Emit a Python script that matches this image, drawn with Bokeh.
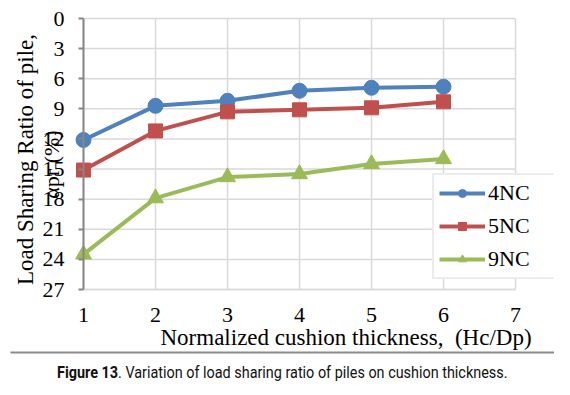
from math import pi
from bokeh.plotting import figure
from bokeh.models import Range1d, FixedTicker, Label, Div, BoxAnnotation
from bokeh.layouts import column
from bokeh.embed import file_html
from bokeh.resources import INLINE

# ---- data ----
thickness = [1, 2, 3, 4, 5, 6]
nc4 = [12.1, 8.7, 8.2, 7.2, 6.9, 6.8]
nc5 = [15.1, 11.2, 9.3, 9.1, 8.9, 8.3]
nc9 = [23.5, 17.9, 15.8, 15.5, 14.5, 14.0]
x_ticks = [1, 2, 3, 4, 5, 6, 7]
y_ticks = [0, 3, 6, 9, 12, 15, 18, 21, 24, 27]
series_names = ["4NC", "5NC", "9NC"]

SERIF = "Liberation Serif"
GRID = "#d9d9d9"

# ---- layout geometry (pixels) ----
W, H = 554, 355
X0_PX, X_PER = 83, 72.0        # x=1 at pixel 83, 72 px per unit
Y0_PX, Y_PER = 18, 271 / 27.0  # y=0 at pixel 18


def px_x(px):
    return x_ticks[0] + (px - X0_PX) / X_PER


def px_y(py):
    return y_ticks[0] + (py - Y0_PX) / Y_PER


p = figure(width=W, height=H, output_backend="svg", toolbar_location=None,
           x_range=Range1d(px_x(0), px_x(W)),
           y_range=Range1d(px_y(H), px_y(0)),
           min_border_left=0, min_border_right=0, min_border_top=0,
           min_border_bottom=0)
p.outline_line_color = None
p.background_fill_color = "white"
p.grid.visible = False

xmin, xmax = x_ticks[0], x_ticks[-1]
ymin, ymax = y_ticks[0], y_ticks[-1]

# grid lines (bounded to the plotting area)
p.segment(x0=x_ticks, x1=x_ticks, y0=[ymin] * len(x_ticks), y1=[ymax] * len(x_ticks),
          line_color=GRID, line_width=1.5)
p.segment(x0=[xmin] * len(y_ticks), x1=[xmax] * len(y_ticks), y0=y_ticks, y1=y_ticks,
          line_color=GRID, line_width=1.5)

# axes at fixed locations
p.xaxis.fixed_location = ymax
p.yaxis.fixed_location = xmin
p.xaxis.bounds = (xmin, xmax)
p.yaxis.bounds = (ymin, ymax)
p.xaxis.ticker = FixedTicker(ticks=x_ticks)
p.yaxis.ticker = FixedTicker(ticks=y_ticks)
for ax in (p.xaxis, p.yaxis):
    ax.major_label_text_font = SERIF
    ax.major_label_text_font_size = "22px"
    ax.major_label_text_color = "black"
    ax.minor_tick_line_color = None
p.xaxis.axis_line_color = GRID
p.xaxis.axis_line_width = 1.5
p.xaxis.major_tick_line_color = None
p.xaxis.major_label_standoff = 12
p.yaxis.axis_line_color = "#868686"
p.yaxis.axis_line_width = 2
p.yaxis.major_tick_line_color = "#868686"
p.yaxis.major_tick_line_width = 2
p.yaxis.major_tick_in = 0
p.yaxis.major_tick_out = 5
p.yaxis.major_label_standoff = 14

colors = ["#4f81bd", "#c0504d", "#9bbb59"]
markers = ["circle", "square", "triangle"]
sizes = [15, 14, 16]
for name, vals, c, m, s in zip(series_names, [nc4, nc5, nc9], colors, markers, sizes):
    p.line(thickness, vals, line_color=c, line_width=4, legend_label=name)
    p.scatter(thickness, vals, marker=m, size=s, fill_color=c, line_color=c,
              legend_label=name)

leg = p.legend[0]
leg.location = (432, H - 279)
leg.label_text_font = SERIF
leg.label_text_font_size = "22px"
leg.label_text_color = "black"
leg.glyph_width = 46
leg.glyph_height = 20
leg.label_height = 20
leg.label_width = 62
leg.label_standoff = 3
leg.spacing = 7
leg.padding = 5
leg.margin = 0
leg.border_line_color = GRID
leg.border_line_width = 2
leg.background_fill_alpha = 1

# axis titles (anchored at the centre of each text line)
p.add_layout(Label(x=px_x(25), y=px_y(159),
                   text="Load Sharing Ratio of pile,", angle=pi / 2,
                   text_align="center", text_baseline="middle",
                   text_font=SERIF, text_font_size="23px", text_color="black"))
p.add_layout(Label(x=px_x(51), y=px_y(164),
                   text="αpr (%)", angle=pi / 2,
                   text_align="center", text_baseline="middle",
                   text_font=SERIF, text_font_size="22px", text_color="black"))
p.add_layout(Label(x=px_x(160), y=px_y(337),
                   text="Normalized cushion thickness,\u00a0 (Hc/Dp)",
                   text_align="left", text_baseline="middle",
                   text_font=SERIF, text_font_size="23px", text_color="black"))

# separator rule under the chart
p.add_layout(BoxAnnotation(left=px_x(10), right=px_x(W), top=px_y(351), bottom=px_y(353),
                           fill_color="#8c8c8c", fill_alpha=1, line_color=None,
                           level="overlay"))

caption = Div(width=W, height=24, margin=(0, 0, 0, 0), text=(
    '<div style="padding-top:9px;padding-left:57px;white-space:nowrap;">'
    '<span style="display:inline-block;transform:scaleX(0.9);transform-origin:left;'
    'font-family:Roboto;font-size:16px;line-height:18px;color:#111;">'
    '<b>Figure 13</b>. Variation of load sharing ratio of piles on cushion thickness.'
    '</span></div>'))

layout = column(p, caption, spacing=0)
open("out.html", "w").write(file_html(layout, INLINE))
